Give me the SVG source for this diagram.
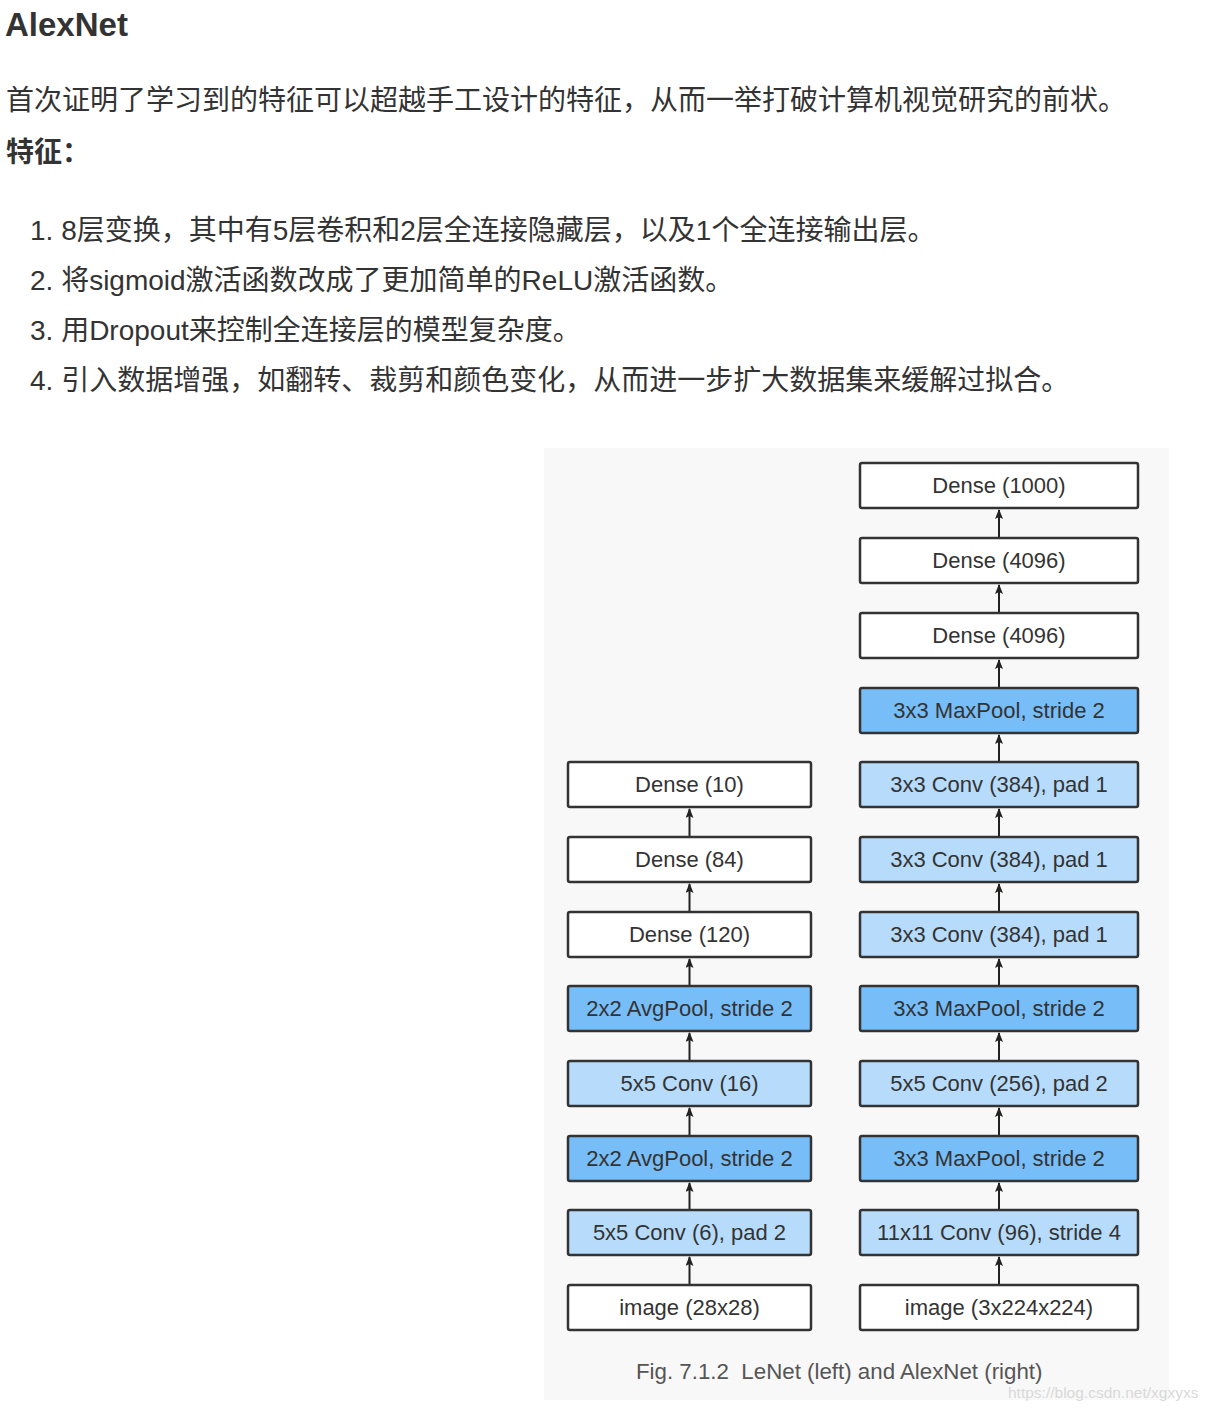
<svg xmlns="http://www.w3.org/2000/svg" width="1210" height="1410" viewBox="0 0 1210 1410">
<defs>
<marker id="ah" viewBox="0 0 10 8" refX="9" refY="4" markerWidth="10" markerHeight="8" markerUnits="userSpaceOnUse" orient="auto">
<path d="M0,0 L10,4 L0,8 L2,4 Z" fill="#222"/>
</marker>
<style>
.doc{font-family:"Liberation Sans","Noto Sans CJK SC",sans-serif;fill:#333}
.h{font-size:33px;font-weight:bold}
.p{font-size:28px}
.b{font-weight:bold}
.box rect{stroke:#333;stroke-width:2.5}
.w{fill:#fff}
.lb{fill:#b7dcfb}
.db{fill:#77bdf8}
.box text{font-family:"Liberation Sans",Arial,sans-serif;font-size:22px;fill:#333;text-anchor:middle}
.cap{font-family:"Liberation Sans",Arial,sans-serif;font-size:22.3px;fill:#555}
.wm{font-family:"Liberation Sans",Arial,sans-serif;font-size:15.5px;fill:#d9d9d9}
#connectors line{stroke:#222;stroke-width:2}
</style>
</defs>
<rect width="1210" height="1410" fill="#fff"/>
<text class="doc h" x="5" y="36">AlexNet</text>
<text class="doc p" x="6" y="110">首次证明了学习到的特征可以超越手工设计的特征，从而一举打破计算机视觉研究的前状。</text>
<text class="doc p b" x="6" y="162">特征：</text>
<text class="doc p" x="30" y="240">1. 8层变换，其中有5层卷积和2层全连接隐藏层，以及1个全连接输出层。</text>
<text class="doc p" x="30" y="290">2. 将sigmoid激活函数改成了更加简单的ReLU激活函数。</text>
<text class="doc p" x="30" y="340">3. 用Dropout来控制全连接层的模型复杂度。</text>
<text class="doc p" x="30" y="390">4. 引入数据增强，如翻转、裁剪和颜色变化，从而进一步扩大数据集来缓解过拟合。</text>

<rect x="544" y="448" width="625" height="952" fill="#f8f8f8"/>

<g id="connectors">
<line x1="999" y1="537" x2="999" y2="510" marker-end="url(#ah)"/>
<line x1="999" y1="612" x2="999" y2="585" marker-end="url(#ah)"/>
<line x1="999" y1="687" x2="999" y2="660" marker-end="url(#ah)"/>
<line x1="999" y1="761" x2="999" y2="735" marker-end="url(#ah)"/>
<line x1="999" y1="836" x2="999" y2="809" marker-end="url(#ah)"/>
<line x1="999" y1="911" x2="999" y2="884" marker-end="url(#ah)"/>
<line x1="999" y1="985" x2="999" y2="959" marker-end="url(#ah)"/>
<line x1="999" y1="1060" x2="999" y2="1033" marker-end="url(#ah)"/>
<line x1="999" y1="1135" x2="999" y2="1108" marker-end="url(#ah)"/>
<line x1="999" y1="1209" x2="999" y2="1183" marker-end="url(#ah)"/>
<line x1="999" y1="1284" x2="999" y2="1257" marker-end="url(#ah)"/>
<line x1="689.5" y1="836" x2="689.5" y2="809" marker-end="url(#ah)"/>
<line x1="689.5" y1="911" x2="689.5" y2="884" marker-end="url(#ah)"/>
<line x1="689.5" y1="985" x2="689.5" y2="959" marker-end="url(#ah)"/>
<line x1="689.5" y1="1060" x2="689.5" y2="1033" marker-end="url(#ah)"/>
<line x1="689.5" y1="1135" x2="689.5" y2="1108" marker-end="url(#ah)"/>
<line x1="689.5" y1="1209" x2="689.5" y2="1183" marker-end="url(#ah)"/>
<line x1="689.5" y1="1284" x2="689.5" y2="1257" marker-end="url(#ah)"/>
</g>

<g id="a-dense1000" class="box"><rect class="w" x="860" y="463" width="278" height="45" rx="2"/><text x="999" y="493">Dense (1000)</text></g>
<g id="a-dense4096b" class="box"><rect class="w" x="860" y="538" width="278" height="45" rx="2"/><text x="999" y="568">Dense (4096)</text></g>
<g id="a-dense4096a" class="box"><rect class="w" x="860" y="613" width="278" height="45" rx="2"/><text x="999" y="643">Dense (4096)</text></g>
<g id="a-maxpool3" class="box"><rect class="db" x="860" y="688" width="278" height="45" rx="2"/><text x="999" y="718">3x3 MaxPool, stride 2</text></g>
<g id="a-conv384c" class="box"><rect class="lb" x="860" y="762" width="278" height="45" rx="2"/><text x="999" y="792">3x3 Conv (384), pad 1</text></g>
<g id="a-conv384b" class="box"><rect class="lb" x="860" y="837" width="278" height="45" rx="2"/><text x="999" y="867">3x3 Conv (384), pad 1</text></g>
<g id="a-conv384a" class="box"><rect class="lb" x="860" y="912" width="278" height="45" rx="2"/><text x="999" y="942">3x3 Conv (384), pad 1</text></g>
<g id="a-maxpool2" class="box"><rect class="db" x="860" y="986" width="278" height="45" rx="2"/><text x="999" y="1016">3x3 MaxPool, stride 2</text></g>
<g id="a-conv256" class="box"><rect class="lb" x="860" y="1061" width="278" height="45" rx="2"/><text x="999" y="1091">5x5 Conv (256), pad 2</text></g>
<g id="a-maxpool1" class="box"><rect class="db" x="860" y="1136" width="278" height="45" rx="2"/><text x="999" y="1166">3x3 MaxPool, stride 2</text></g>
<g id="a-conv96" class="box"><rect class="lb" x="860" y="1210" width="278" height="45" rx="2"/><text x="999" y="1240">11x11 Conv (96), stride 4</text></g>
<g id="a-image" class="box"><rect class="w" x="860" y="1285" width="278" height="45" rx="2"/><text x="999" y="1315">image (3x224x224)</text></g>

<g id="l-dense10" class="box"><rect class="w" x="568" y="762" width="243" height="45" rx="2"/><text x="689.5" y="792">Dense (10)</text></g>
<g id="l-dense84" class="box"><rect class="w" x="568" y="837" width="243" height="45" rx="2"/><text x="689.5" y="867">Dense (84)</text></g>
<g id="l-dense120" class="box"><rect class="w" x="568" y="912" width="243" height="45" rx="2"/><text x="689.5" y="942">Dense (120)</text></g>
<g id="l-avgpool2" class="box"><rect class="db" x="568" y="986" width="243" height="45" rx="2"/><text x="689.5" y="1016">2x2 AvgPool, stride 2</text></g>
<g id="l-conv16" class="box"><rect class="lb" x="568" y="1061" width="243" height="45" rx="2"/><text x="689.5" y="1091">5x5 Conv (16)</text></g>
<g id="l-avgpool1" class="box"><rect class="db" x="568" y="1136" width="243" height="45" rx="2"/><text x="689.5" y="1166">2x2 AvgPool, stride 2</text></g>
<g id="l-conv6" class="box"><rect class="lb" x="568" y="1210" width="243" height="45" rx="2"/><text x="689.5" y="1240">5x5 Conv (6), pad 2</text></g>
<g id="l-image" class="box"><rect class="w" x="568" y="1285" width="243" height="45" rx="2"/><text x="689.5" y="1315">image (28x28)</text></g>

<text class="cap" x="636" y="1379" xml:space="preserve">Fig. 7.1.2  LeNet (left) and AlexNet (right)</text>
<text class="wm" x="1008" y="1398">https://blog.csdn.net/xgxyxs</text>
</svg>
